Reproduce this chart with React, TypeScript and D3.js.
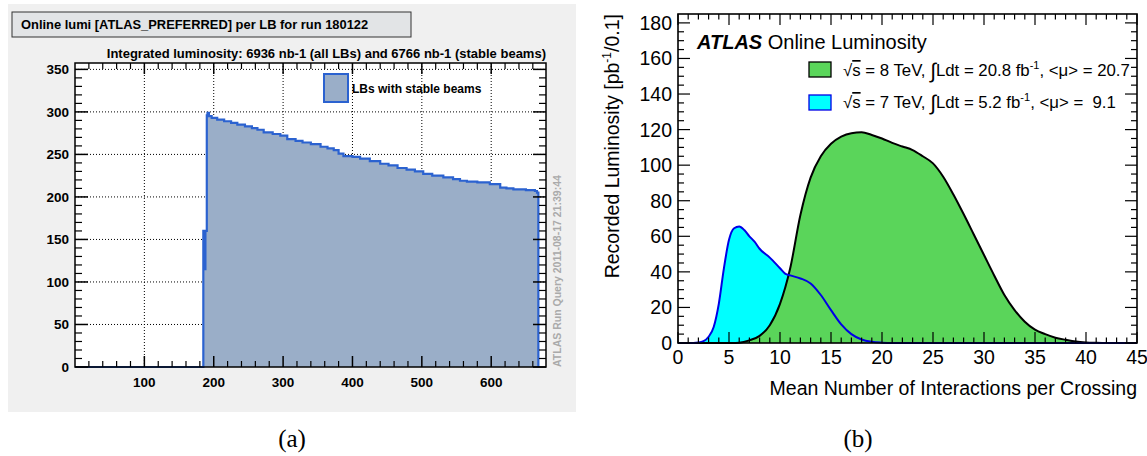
import React from "react";
import * as d3 from "d3";

// ---------- Left panel data (per-LB online luminosity, stable beams) ----------
const lbStart = [1, 185, 187, 188, 190, 191, 193, 197, 205, 215, 225, 234, 245, 255, 263, 272, 285, 296, 306, 318, 328, 340, 354, 364, 373, 380, 387, 400, 411, 425, 440, 452, 465, 478, 490, 502, 515, 531, 545, 555, 565, 580, 598, 613, 622, 632, 650, 663, 666];
const lbLumi = [0, 160, 115, 160, 296, 299, 295, 293, 291, 289, 287, 285, 283, 281, 279, 276, 274, 272, 268, 266, 264, 262, 259, 257, 255, 251, 248, 247, 245, 242, 239, 237, 234, 232, 230, 227, 225, 223, 221, 219, 218, 217, 215, 211, 210, 209, 208, 207, 205];
const lbLast = 668;
const leftXTicks = [100, 200, 300, 400, 500, 600];
const leftYTicks = [0, 50, 100, 150, 200, 250, 300, 350];

// ---------- Right panel data ----------
const mu8 = [0, 2, 4, 5, 6, 7, 8, 9, 10, 11, 12, 13, 14, 15, 16, 17, 18, 19, 20, 21, 22, 23, 24, 25, 26, 27, 28, 29, 30, 31, 32, 33, 34, 35, 36, 37, 38, 39, 40, 41, 42, 45];
const lumi8 = [0, 0, 0, 0.05, 0.2, 1.5, 4, 10, 22, 42, 72, 93, 105, 112, 116, 118, 118.5, 117, 115, 112.5, 110.5, 108.5, 105, 101, 93.5, 83.5, 72.5, 61, 49.5, 38, 27, 18.5, 12, 7.5, 5, 3, 1.8, 0.8, 0.3, 0.1, 0, 0];
const mu7 = [0, 1, 2, 2.5, 3, 3.5, 4, 4.5, 5, 5.5, 6, 6.5, 7, 7.5, 8, 9, 10, 10.5, 11, 12, 13, 14, 15, 16, 17, 18, 19, 20, 21, 45];
const lumi7 = [0, 0, 0.3, 1, 3.5, 9, 22, 42, 58, 64.5, 65.5, 63.5, 60, 57, 53, 48, 42, 39, 38, 36.3, 33.5, 27, 18.5, 10.5, 5, 2, 0.7, 0.2, 0, 0];
const rightXTicks = [0, 5, 10, 15, 20, 25, 30, 35, 40, 45];
const rightYTicks = [0, 20, 40, 60, 80, 100, 120, 140, 160, 180];

const BOLD = "'Liberation Sans', Arial, Helvetica, sans-serif";

function LeftPanel() {
  const x0 = 75, x1 = 546, yTop = 63, yBot = 367;
  const x = d3.scaleLinear().domain([0, 679]).range([x0, x1]);
  const y = d3.scaleLinear().domain([0, 357.5]).range([yBot, yTop]);
  const pts: [number, number][] = lbStart.map((s, i) => [s, lbLumi[i]]);
  pts.push([lbLast, lbLumi[lbLumi.length - 1]]);
  const area = d3.area<[number, number]>().x(d => x(d[0])).y0(y(0)).y1(d => y(d[1])).curve(d3.curveStepAfter);
  const line = d3.line<[number, number]>().x(d => x(d[0])).y(d => y(d[1])).curve(d3.curveStepAfter);
  const linePts: [number, number][] = [...pts, [lbLast, 0]];
  const minorX = d3.range(20, 679, 20).filter(v => v % 100 !== 0);
  const minorY = d3.range(10, 357, 10).filter(v => v % 50 !== 0);
  return (
    <g>
      <rect x={8} y={4} width={568} height={408} fill="#f0f0f0" />
      <rect x={12} y={12} width={399} height={25} fill="#e2e4e6" stroke="#333" strokeWidth={1} />
      <text x={21} y={29} fontFamily={BOLD} fontWeight="bold" fontSize={12.9} fill="#000">Online lumi [ATLAS_PREFERRED] per LB for run 180122</text>
      <text x={546} y={58} textAnchor="end" fontFamily={BOLD} fontWeight="bold" fontSize={13} fill="#000">Integrated luminosity: 6936 nb-1 (all LBs) and 6766 nb-1 (stable beams)</text>
      <rect x={x0} y={yTop} width={x1 - x0} height={yBot - yTop} fill="#fff" />
      {/* grid */}
      {leftXTicks.map(t => <line key={"gx" + t} x1={x(t)} x2={x(t)} y1={yTop} y2={yBot} stroke="#000" strokeWidth={1} strokeDasharray="1,2" />)}
      {leftYTicks.filter(t => t > 0).map(t => <line key={"gy" + t} x1={x0} x2={x1} y1={y(t)} y2={y(t)} stroke="#000" strokeWidth={1} strokeDasharray="1,2" />)}
      {/* histogram */}
      <path d={area(pts) || ""} fill="#9aaec8" />
      <path d={line(linePts) || ""} fill="none" stroke="#2b62d0" strokeWidth={2.2} />
      {/* ticks */}
      {leftXTicks.map(t => (
        <g key={"tx" + t}>
          <line x1={x(t)} x2={x(t)} y1={yBot} y2={yBot - 11} stroke="#000" strokeWidth={1.5} />
          <line x1={x(t)} x2={x(t)} y1={yTop} y2={yTop + 11} stroke="#000" strokeWidth={1.5} />
          <text x={x(t)} y={387} textAnchor="middle" fontFamily={BOLD} fontWeight="bold" fontSize={13.5}>{t}</text>
        </g>
      ))}
      {minorX.map(t => (
        <g key={"mx" + t}>
          <line x1={x(t)} x2={x(t)} y1={yBot} y2={yBot - 6} stroke="#000" strokeWidth={1.2} />
          <line x1={x(t)} x2={x(t)} y1={yTop} y2={yTop + 6} stroke="#000" strokeWidth={1.2} />
        </g>
      ))}
      {leftYTicks.map(t => (
        <g key={"ty" + t}>
          <line x1={x0} x2={x0 + 13} y1={y(t)} y2={y(t)} stroke="#000" strokeWidth={1.5} />
          <line x1={x1} x2={x1 - 13} y1={y(t)} y2={y(t)} stroke="#000" strokeWidth={1.5} />
          <text x={69} y={y(t) + 5} textAnchor="end" fontFamily={BOLD} fontWeight="bold" fontSize={13.5}>{t}</text>
        </g>
      ))}
      {minorY.map(t => (
        <g key={"my" + t}>
          <line x1={x0} x2={x0 + 7} y1={y(t)} y2={y(t)} stroke="#000" strokeWidth={1.2} />
          <line x1={x1} x2={x1 - 7} y1={y(t)} y2={y(t)} stroke="#000" strokeWidth={1.2} />
        </g>
      ))}
      <rect x={x0} y={yTop} width={x1 - x0} height={yBot - yTop} fill="none" stroke="#000" strokeWidth={1.5} />
      {/* legend */}
      <rect x={324} y={74} width={24} height={28} fill="#9aaec8" stroke="#2b62d0" strokeWidth={2} />
      <text x={352} y={93} fontFamily={BOLD} fontWeight="bold" fontSize={12}>LBs with stable beams</text>
      {/* timestamp */}
      <text transform={`translate(561,367) rotate(-90)`} fontFamily={BOLD} fontWeight="bold" fontSize={10.5} fill="#aaa">ATLAS Run Query 2011-08-17 21:39:44</text>
    </g>
  );
}

function LegendText({ x, y, energy, lumi, mu }: { x: number; y: number; energy: string; lumi: string; mu: string }) {
  return (
    <text x={x} y={y} fontFamily={BOLD} fontSize={16.8} fill="#000">
      <tspan>√</tspan>
      <tspan style={{ textDecoration: "overline" }}>s</tspan>
      <tspan>{` = ${energy} TeV, `}</tspan>
      <tspan fontSize={21} dy={2}>∫</tspan>
      <tspan dy={-2}>{`Ldt = ${lumi} fb`}</tspan>
      <tspan fontSize={11} dy={-7}>-1</tspan>
      <tspan dy={7}>{`, <μ> = ${mu}`}</tspan>
    </text>
  );
}

function RightPanel() {
  const x0 = 678, x1 = 1137, yTop = 14, yBot = 343;
  const x = d3.scaleLinear().domain([0, 45]).range([x0, x1]);
  const y = d3.scaleLinear().domain([0, 185]).range([yBot, yTop]);
  const d8: [number, number][] = mu8.map((m, i) => [m, lumi8[i]]);
  const d7: [number, number][] = mu7.map((m, i) => [m, lumi7[i]]);
  const area = d3.area<[number, number]>().x(d => x(d[0])).y0(y(0)).y1(d => y(d[1])).curve(d3.curveMonotoneX);
  const line = d3.line<[number, number]>().x(d => x(d[0])).y(d => y(d[1])).curve(d3.curveMonotoneX);
  const minorX = d3.range(1, 45, 1).filter(v => v % 5 !== 0);
  const minorY = d3.range(5, 185, 5).filter(v => v % 20 !== 0);
  const font = "'Liberation Sans', Arial, Helvetica, sans-serif";
  const fs = 19.5;
  return (
    <g>
      <path d={area(d7) || ""} fill="#00ffff" />
      <path d={area(d8) || ""} fill="#5ad55a" />
      <path d={line(d8) || ""} fill="none" stroke="#000" strokeWidth={2} />
      <path d={line(d7) || ""} fill="none" stroke="#0000e6" strokeWidth={2} />
      {rightXTicks.map(t => (
        <g key={"rx" + t}>
          <line x1={x(t)} x2={x(t)} y1={yBot} y2={yBot - 11} stroke="#000" strokeWidth={1.2} />
          <line x1={x(t)} x2={x(t)} y1={yTop} y2={yTop + 11} stroke="#000" strokeWidth={1.2} />
          <text x={x(t)} y={364} textAnchor="middle" fontFamily={font} fontSize={fs}>{t}</text>
        </g>
      ))}
      {minorX.map(t => (
        <g key={"rmx" + t}>
          <line x1={x(t)} x2={x(t)} y1={yBot} y2={yBot - 5.5} stroke="#000" strokeWidth={1.2} />
          <line x1={x(t)} x2={x(t)} y1={yTop} y2={yTop + 5.5} stroke="#000" strokeWidth={1.2} />
        </g>
      ))}
      {rightYTicks.map(t => (
        <g key={"ry" + t}>
          <line x1={x0} x2={x0 + 12} y1={y(t)} y2={y(t)} stroke="#000" strokeWidth={1.2} />
          <line x1={x1} x2={x1 - 12} y1={y(t)} y2={y(t)} stroke="#000" strokeWidth={1.2} />
          <text x={672} y={y(t) + 7} textAnchor="end" fontFamily={font} fontSize={fs}>{t}</text>
        </g>
      ))}
      {minorY.map(t => (
        <g key={"rmy" + t}>
          <line x1={x0} x2={x0 + 6} y1={y(t)} y2={y(t)} stroke="#000" strokeWidth={1.2} />
          <line x1={x1} x2={x1 - 6} y1={y(t)} y2={y(t)} stroke="#000" strokeWidth={1.2} />
        </g>
      ))}
      <rect x={x0} y={yTop} width={x1 - x0} height={yBot - yTop} fill="none" stroke="#000" strokeWidth={1.6} />
      <text x={1137} y={395} textAnchor="end" fontFamily={font} fontSize={fs}>Mean Number of Interactions per Crossing</text>
      <text transform={`translate(619,14) rotate(-90)`} textAnchor="end" fontFamily={font} fontSize={fs}>
        <tspan>Recorded Luminosity [pb</tspan>
        <tspan fontSize={12} dy={-8}>-1</tspan>
        <tspan dy={8}>/0.1]</tspan>
      </text>
      <text x={697} y={49} fontFamily={font} fontSize={20}>
        <tspan fontWeight="bold" fontStyle="italic">ATLAS</tspan>
        <tspan> Online Luminosity</tspan>
      </text>
      <rect x={809} y={62} width={22} height={15} fill="#5ad55a" stroke="#000" strokeWidth={1.3} />
      <LegendText x={843} y={76} energy="8" lumi="20.8" mu="20.7" />
      <rect x={809} y={95} width={22} height={15} fill="#00ffff" stroke="#0000e6" strokeWidth={1.3} />
      <LegendText x={843} y={108} energy="7" lumi="5.2" mu={"\u00a09.1"} />
    </g>
  );
}

export default function App() {
  return (
    <svg width={1147} height={456} viewBox="0 0 1147 456" style={{ position: "absolute", left: 0, top: 0, display: "block", background: "#fff" }}>
      <rect x={0} y={0} width={1147} height={456} fill="#fff" />
      <LeftPanel />
      <RightPanel />
      <text x={292} y={447} textAnchor="middle" fontFamily="'Liberation Serif', 'DejaVu Serif', serif" fontSize={25}>(a)</text>
      <text x={858} y={447} textAnchor="middle" fontFamily="'Liberation Serif', 'DejaVu Serif', serif" fontSize={25}>(b)</text>
    </svg>
  );
}
